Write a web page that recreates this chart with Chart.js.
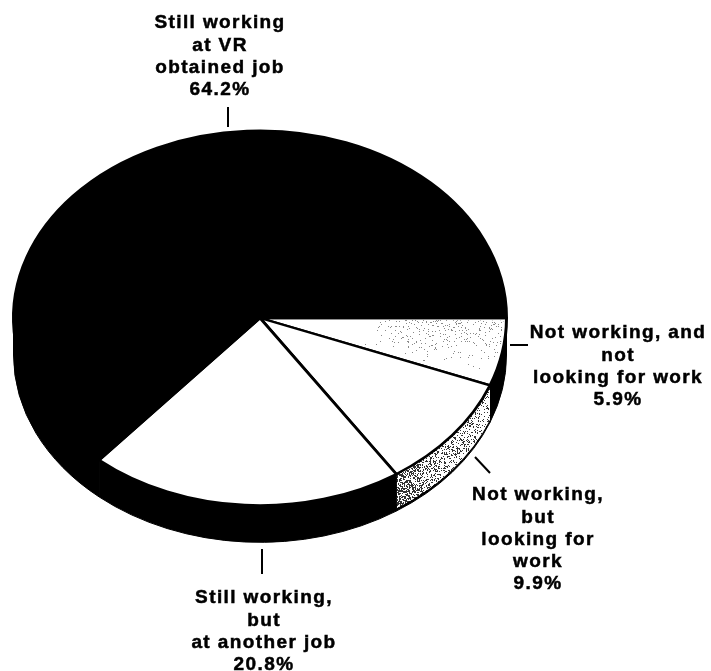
<!DOCTYPE html>
<html>
<head>
<meta charset="utf-8">
<title>Employment status</title>
<style>
  html, body { margin: 0; padding: 0; background: #fff; }
  canvas { display: block; }
</style>
</head>
<body>
<canvas id="chartStatus" width="711" height="671"></canvas>
<script src="https://cdn.jsdelivr.net/npm/chart.js@4/dist/chart.umd.min.js"></script>
<script>
// Shares in drawing order, clockwise from 3 o'clock
const categories = ['Not working, and not looking for work', 'Not working, but looking for work', 'Still working, but at another job', 'Still working at VR obtained job'];
const values = [5.9, 9.9, 20.8, 64.2];
const labelLines = [
  ['Not working, and', 'not', 'looking for work', '5.9%'],
  ['Not working,', 'but', 'looking for', 'work', '9.9%'],
  ['Still working,', 'but', 'at another job', '20.8%'],
  ['Still working', 'at VR', 'obtained job', '64.2%']
];

const topColors = ['#ffffff', '#ffffff', '#ffffff', '#000000'];

// Label placement: centre x, first line y, then the little leader line
const labelBoxes = [
  { x: 618, y: 333, line: [510, 345, 528, 345] },
  { x: 538, y: 495, line: [475, 457, 490, 473] },
  { x: 264, y: 598, line: [262, 549, 262, 574] },
  { x: 220, y: 23, line: [228, 107, 228, 127] }
];

const SQUASH = 0.76;  // tilt of the disc
const DEPTH = 37;     // height of the rim
const LINE_H = 22.3;

// small repeatable hash for the print-like screen tones
function grain(x, y) {
  const s = Math.sin(x * 12.9898 + y * 78.233) * 43758.5453;
  return s - Math.floor(s);
}

// dark-to-light screen used on the rim of the 9.9% slice
function rimTone(w, h) {
  const c = document.createElement('canvas');
  c.width = w;
  c.height = h;
  const g = c.getContext('2d');
  g.fillStyle = '#fff';
  g.fillRect(0, 0, w, h);
  g.fillStyle = '#333';
  for (let y = 0; y < h; y++) {
    for (let x = 0; x < w; x++) {
      const t = x / w;
      const density = t < 0.35 ? 0.58 - t * 0.7 : 0.32 - (t - 0.35) * 0.3;
      if (grain(x, y) < density) g.fillRect(x, y, 1, 1);
    }
  }
  return c;
}

// sparse speckle on the 5.9% slice, thinning out downwards
function speckle(w, h) {
  const c = document.createElement('canvas');
  c.width = w;
  c.height = h;
  const g = c.getContext('2d');
  g.fillStyle = '#8a8a8a';
  for (let y = 0; y < h; y++) {
    for (let x = 0; x < w; x++) {
      const density = 0.1 * (1 - y / h) * Math.min(1, x / 60);
      if (grain(x + 3, y + 7) < density) g.fillRect(x, y, 1, 1);
    }
  }
  return c;
}

function rimPath(ctx, arc, from, to, depth) {
  const r = arc.outerRadius;
  ctx.beginPath();
  ctx.ellipse(arc.x, arc.y, r, r * SQUASH, 0, from, to);
  ctx.ellipse(arc.x, arc.y + depth, r, r * SQUASH, 0, to, from, true);
  ctx.closePath();
}

function squash(ctx, arc) {
  ctx.save();
  ctx.translate(arc.x, arc.y);
  ctx.scale(1, SQUASH);
  ctx.translate(-arc.x, -arc.y);
}

const tiltedDisc = {
  id: 'tiltedDisc',
  beforeDatasetsDraw(chart) {
    const ctx = chart.ctx;
    const arcs = chart.getDatasetMeta(0).data;
    // rim first, only the front half is visible
    arcs.forEach((arc, i) => {
      const from = Math.max(arc.startAngle, 0);
      const to = Math.min(arc.endAngle, Math.PI);
      if (from >= to) return;
      ctx.save();
      rimPath(ctx, arc, from, to, DEPTH);
      ctx.fillStyle = '#000';
      ctx.strokeStyle = '#000';
      ctx.lineWidth = 1;
      ctx.fill();
      ctx.stroke();
      if (i === 1) {
        // screen tone inside a thin black outer line
        rimPath(ctx, arc, from, to, DEPTH - 2.5);
        ctx.clip();
        ctx.drawImage(rimTone(100, 150), 395, 375);
      }
      ctx.restore();
    });
    squash(ctx, arcs[0]);
  },
  afterDatasetsDraw(chart) {
    const ctx = chart.ctx;
    const arc = chart.getDatasetMeta(0).data[0];
    // the path is built squashed and keeps that shape after the restore
    ctx.beginPath();
    ctx.moveTo(arc.x, arc.y);
    ctx.arc(arc.x, arc.y, arc.outerRadius - 3, arc.startAngle + 0.015, arc.endAngle - 0.015);
    ctx.closePath();
    ctx.restore();
    ctx.save();
    ctx.clip();
    ctx.drawImage(speckle(145, 50), 362, 320);
    ctx.restore();
  }
};

const calloutLabels = {
  id: 'calloutLabels',
  afterDraw(chart) {
    const ctx = chart.ctx;
    ctx.save();
    ctx.fillStyle = '#000';
    ctx.strokeStyle = '#000';
    ctx.font = 'bold 19px "Liberation Sans", Arial, sans-serif';
    ctx.letterSpacing = '1.4px';
    ctx.textAlign = 'center';
    ctx.textBaseline = 'middle';
    labelLines.forEach((lines, i) => {
      const box = labelBoxes[i];
      ctx.lineWidth = 0.5;
      lines.forEach((text, n) => {
        ctx.fillText(text, box.x, box.y + n * LINE_H);
        ctx.strokeText(text, box.x, box.y + n * LINE_H);
      });
      ctx.lineWidth = 2;
      ctx.beginPath();
      ctx.moveTo(box.line[0], box.line[1]);
      ctx.lineTo(box.line[2], box.line[3]);
      ctx.stroke();
    });
    ctx.restore();
  }
};

const chartStatus = new Chart(document.getElementById('chartStatus').getContext('2d'), {
  type: 'pie',
  data: {
    labels: categories,
    datasets: [{
      data: values,
      backgroundColor: topColors,
      borderColor: '#000',
      borderWidth: 3
    }]
  },
  options: {
    responsive: false,
    animation: false,
    rotation: 90,
    layout: { padding: { left: 12, right: 203, top: 70, bottom: 105 } },
    plugins: {
      legend: { display: false },
      tooltip: { enabled: false }
    }
  },
  plugins: [tiltedDisc, calloutLabels]
});
</script>
</body>
</html>
